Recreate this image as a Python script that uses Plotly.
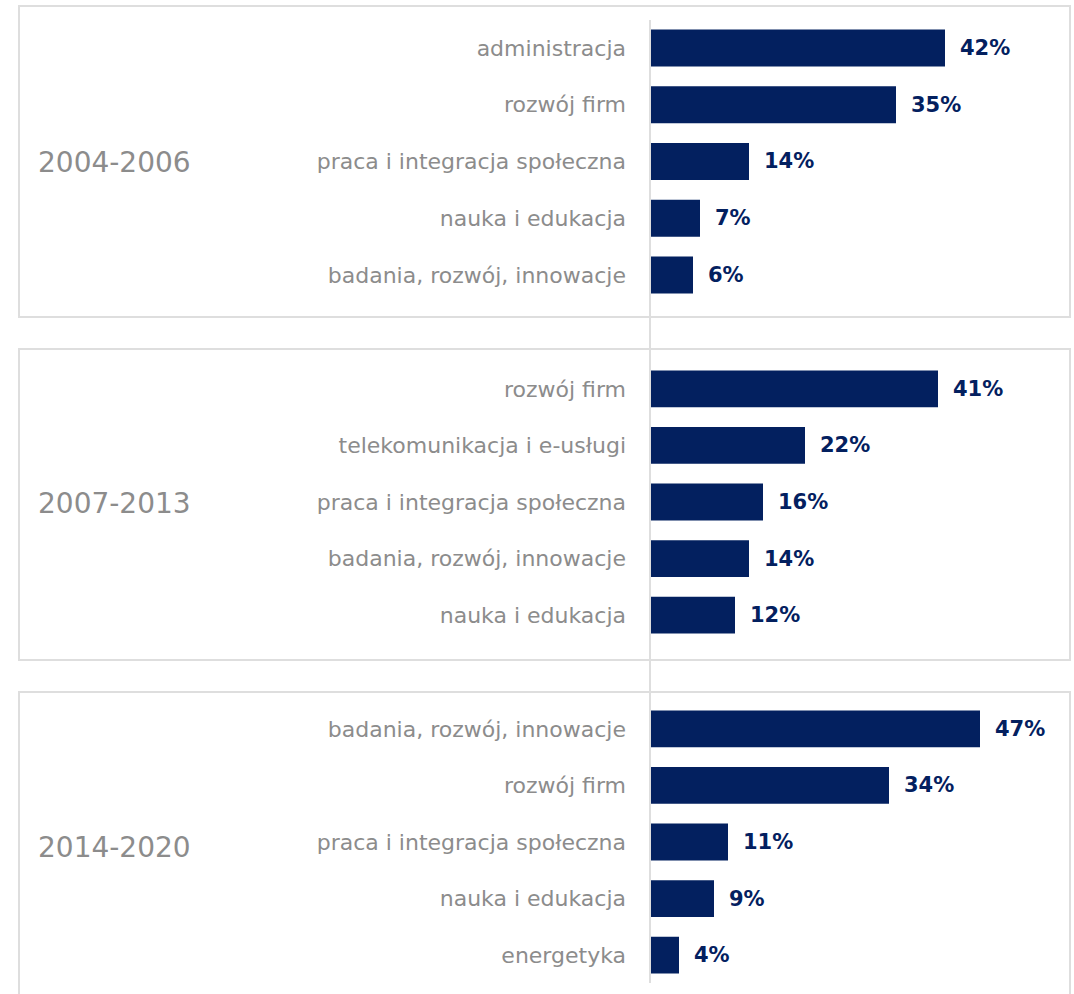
import plotly.graph_objects as go
from plotly.subplots import make_subplots

# Funding shares by thematic area in each programming period
periods = ["2004-2006", "2007-2013", "2014-2020"]
categories = [
    ["administracja", "rozwój firm", "praca i integracja społeczna",
     "nauka i edukacja", "badania, rozwój, innowacje"],
    ["rozwój firm", "telekomunikacja i e-usługi", "praca i integracja społeczna",
     "badania, rozwój, innowacje", "nauka i edukacja"],
    ["badania, rozwój, innowacje", "rozwój firm", "praca i integracja społeczna",
     "nauka i edukacja", "energetyka"],
]
shares = [
    [42, 35, 14, 7, 6],
    [41, 22, 16, 14, 12],
    [47, 34, 11, 9, 4],
]

W, H = 1074, 994
BAR = "#03205f"
GREY_TXT = "#8c8c8c"
FRAME = "#dedede"
FONT = "DejaVu Sans"


def px_x(p):
    return p / W


def px_y(p):
    return 1 - p / H


# vertical pixel extents of each panel's bar area and frame
domains_px = [(19.6, 303.4), (360.6, 643.4), (700.6, 983.4)]
frames_px = [(6, 317), (349, 660), (692, 1010)]

fig = make_subplots(rows=3, cols=1, shared_xaxes=False, vertical_spacing=0.0)

x0_px = 651
px_per_unit = 7.0
xmax = (W - x0_px) / px_per_unit

for i, (cats, vals) in enumerate(zip(categories, shares)):
    row = i + 1
    fig.add_trace(
        go.Bar(
            x=vals, y=cats, orientation="h",
            marker=dict(color=BAR, line=dict(width=0)),
            width=0.65, showlegend=False, hoverinfo="skip",
        ),
        row=row, col=1,
    )
    for c, v in zip(cats, vals):
        fig.add_annotation(
            x=v, y=c, xref=f"x{'' if row == 1 else row}", yref=f"y{'' if row == 1 else row}",
            text=f"<b>{v}%</b>", showarrow=False, xanchor="left", xshift=13,
            font=dict(family=FONT, size=21, color=BAR),
        )

axis_layout = {}
for i, (top, bot) in enumerate(domains_px):
    sfx = "" if i == 0 else str(i + 1)
    axis_layout[f"xaxis{sfx}"] = dict(
        domain=[px_x(x0_px), 1], range=[0, xmax],
        showgrid=False, zeroline=False, showticklabels=False, showline=False,
    )
    axis_layout[f"yaxis{sfx}"] = dict(
        domain=[px_y(bot), px_y(top)], autorange="reversed",
        showgrid=False, zeroline=False, showline=False, ticks="",
        ticklabelstandoff=24,
        tickfont=dict(family=FONT, size=22, color=GREY_TXT),
    )
fig.update_layout(**axis_layout)

shapes = []
for top, bot in frames_px:
    shapes.append(dict(
        type="rect", xref="paper", yref="paper",
        x0=px_x(19), x1=px_x(1070), y0=px_y(bot), y1=px_y(top),
        line=dict(color=FRAME, width=2), fillcolor="rgba(0,0,0,0)", layer="below",
    ))
shapes.append(dict(
    type="line", xref="paper", yref="paper",
    x0=px_x(650), x1=px_x(650), y0=px_y(20), y1=px_y(983),
    line=dict(color=FRAME, width=2), layer="below",
))

label_mid_px = [162, 503, 847]
for period, mid in zip(periods, label_mid_px):
    fig.add_annotation(
        x=px_x(36), y=px_y(mid), xref="paper", yref="paper",
        text=period, showarrow=False, xanchor="left", yanchor="middle",
        font=dict(family=FONT, size=28, color=GREY_TXT),
    )

fig.update_layout(
    width=W, height=H, shapes=shapes,
    margin=dict(l=0, r=0, t=0, b=0),
    paper_bgcolor="white", plot_bgcolor="rgba(0,0,0,0)",
    bargap=0.35,
)

fig.write_html("out.html")
